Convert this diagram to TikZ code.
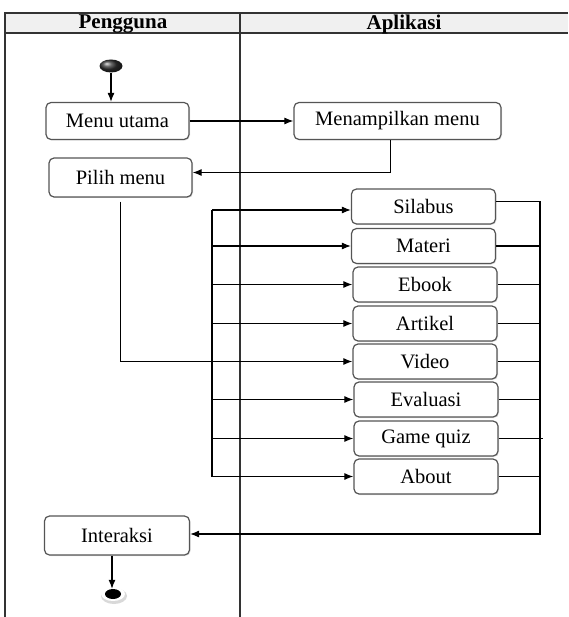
\documentclass[tikz,border=0pt]{standalone}
\usepackage{fontspec}
\setmainfont{Liberation Serif}
\usetikzlibrary{arrows.meta,shadows,shapes.geometric}
\definecolor{lanefill}{HTML}{F0F0F0}
\definecolor{boxline}{HTML}{555555}
\begin{document}
\begin{tikzpicture}[x=1pt,y=-1pt,
  act/.style={draw=boxline,line width=1.2pt,rounded corners=5pt,fill=white,
    minimum height=37pt,inner sep=0pt,font=\fontsize{20.5}{22}\selectfont,
    drop shadow={shadow xshift=1pt,shadow yshift=-1pt,opacity=0.25}},
  item/.style={act,minimum width=144pt,minimum height=35pt},
  flow/.style={line width=1.1pt,draw=black},
  arr/.style={flow,-{Latex[length=9pt,width=7pt]}},
  lane/.style={line width=1.1pt,draw=black!80},
  head/.style={font=\fontsize{21}{23}\selectfont\bfseries}]

\useasboundingbox (0,0) rectangle (568,617);

% swimlane frame
\fill[lanefill] (5,13) rectangle (568,33);
\draw[lane] (568,13) -- (5,13) -- (5,617);
\draw[lane] (5,33) -- (568,33);
\draw[lane] (240,13) -- (240,617);
\node[head] (hp) at (123,24) {Pengguna};
\node[head] (ha) at (404,24) {Aplikasi};

% start and end nodes
\shade[ball color=black!80] (111,66) ellipse [x radius=11.5pt,y radius=6.5pt];
\node[ellipse,minimum width=23pt,minimum height=13pt,inner sep=0pt] (start) at (111,66) {};
\fill[black!15] (114,596) ellipse [x radius=13pt,y radius=8pt];
\fill[white] (113,594) ellipse [x radius=12pt,y radius=7pt];
\node[ellipse,fill=black,minimum width=16pt,minimum height=10pt,inner sep=0pt] (end) at (113,594) {};

% activities
\node[act,minimum width=143pt] (mu) at (117.5,121) {Menu utama};
\node[act,minimum width=207pt] (mm) at (397.5,121) {Menampilkan menu};
\node[act,minimum width=143pt,minimum height=39pt] (pm) at (120.5,177.5) {Pilih menu};
\node[act,minimum width=145pt,minimum height=39pt] (ia) at (117,535.5) {Interaksi};

\node[item] (sil) at (423.5,206.5) {Silabus};
\node[item] (mat) at (423.5,246) {Materi};
\node[item] (ebk) at (425,284.5) {Ebook};
\node[item] (art) at (425,323.5) {Artikel};
\node[item] (vid) at (425,361.5) {Video};
\node[item] (eva) at (426,399.5) {Evaluasi};
\node[item] (gq) at (426,438.5) {Game quiz};
\node[item] (ab) at (426,476.5) {About};

% flow
\draw[arr] (start.south) -- (start.south |- mu.north);
\draw[arr] ([xshift=-7pt]mm.south) |- ([yshift=5pt]pm.east);
\draw[arr] (mu.east) -- (mm.west);
\draw[arr] ([yshift=-4pt]pm.south) |- (vid.west);

% fork into the menu items
\coordinate (fork) at (212,0);
\coordinate (silin) at ([yshift=-3.5pt]sil.west);
\draw[flow] (fork |- silin) -- (fork |- ab.west);
\draw[arr] (fork |- silin) -- (silin);
\foreach \n in {mat,ebk,art,eva,gq,ab}{
  \draw[arr] (fork |- \n.west) -- (\n.west);
}

% join back to the user
\coordinate (join) at (540,0);
\coordinate (silout) at ([yshift=5pt]sil.east);
\coordinate (iain) at ([yshift=1.5pt]ia.east);
\draw[flow] (silout) -- (join |- silout);
\foreach \n in {mat,ebk,art,vid,eva,ab}{
  \draw[flow] (\n.east) -- (join |- \n.east);
}
\draw[flow] (gq.east) -- ([xshift=3pt]join |- gq.east);
\draw[arr] (join |- silout) |- (iain);
\draw[arr] ([xshift=-5pt]ia.south) -- ([xshift=-5pt]ia.south |- end.north);
\end{tikzpicture}
\end{document}
